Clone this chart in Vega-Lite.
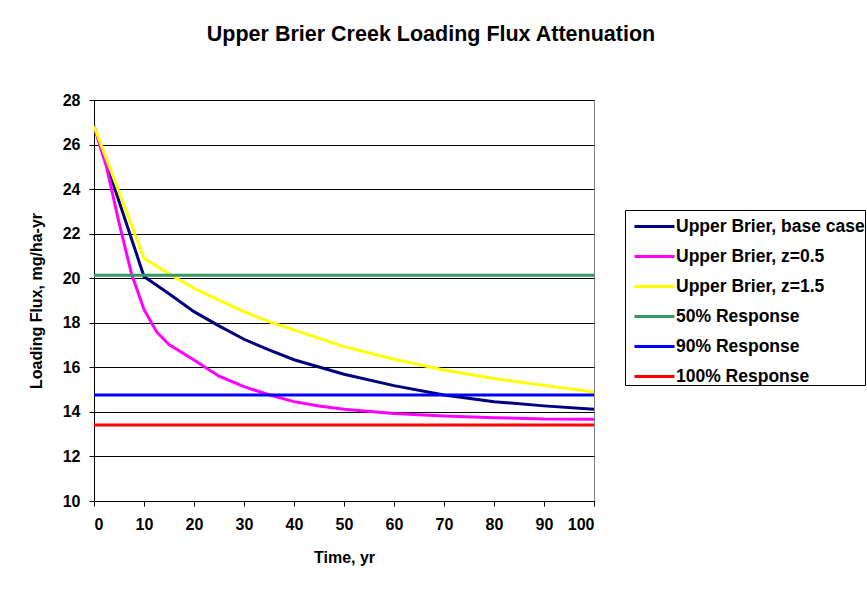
{
  "$schema": "https://vega.github.io/schema/vega-lite/v6.json",
  "width": 500,
  "height": 401,
  "autosize": {"type": "none"},
  "padding": {"left": 94, "top": 100, "right": 273, "bottom": 91},
  "background": "white",
  "title": {
    "text": "Upper Brier Creek Loading Flux Attenuation",
    "font": "Liberation Sans",
    "fontSize": 21.5,
    "fontWeight": "bold",
    "color": "black",
    "anchor": "middle",
    "frame": "group",
    "dx": 87,
    "offset": 47
  },
  "data": {
    "values": [
      {"series": "Upper Brier, base case", "t": 0, "v": 26.83},
      {"series": "Upper Brier, base case", "t": 10, "v": 20.08},
      {"series": "Upper Brier, base case", "t": 15, "v": 19.3},
      {"series": "Upper Brier, base case", "t": 20, "v": 18.5},
      {"series": "Upper Brier, base case", "t": 25, "v": 17.86},
      {"series": "Upper Brier, base case", "t": 30, "v": 17.26},
      {"series": "Upper Brier, base case", "t": 35, "v": 16.78},
      {"series": "Upper Brier, base case", "t": 40, "v": 16.34},
      {"series": "Upper Brier, base case", "t": 50, "v": 15.69},
      {"series": "Upper Brier, base case", "t": 60, "v": 15.18},
      {"series": "Upper Brier, base case", "t": 70, "v": 14.76},
      {"series": "Upper Brier, base case", "t": 80, "v": 14.46},
      {"series": "Upper Brier, base case", "t": 90, "v": 14.27},
      {"series": "Upper Brier, base case", "t": 100, "v": 14.12},
      {"series": "Upper Brier, z=0.5", "t": 0, "v": 26.83},
      {"series": "Upper Brier, z=0.5", "t": 2.5, "v": 25.0},
      {"series": "Upper Brier, z=0.5", "t": 5, "v": 22.5},
      {"series": "Upper Brier, z=0.5", "t": 7.5, "v": 20.2},
      {"series": "Upper Brier, z=0.5", "t": 10, "v": 18.6},
      {"series": "Upper Brier, z=0.5", "t": 12.5, "v": 17.6},
      {"series": "Upper Brier, z=0.5", "t": 15, "v": 17.02},
      {"series": "Upper Brier, z=0.5", "t": 20, "v": 16.33},
      {"series": "Upper Brier, z=0.5", "t": 25, "v": 15.6},
      {"series": "Upper Brier, z=0.5", "t": 30, "v": 15.13},
      {"series": "Upper Brier, z=0.5", "t": 35, "v": 14.77},
      {"series": "Upper Brier, z=0.5", "t": 40, "v": 14.46},
      {"series": "Upper Brier, z=0.5", "t": 45, "v": 14.26},
      {"series": "Upper Brier, z=0.5", "t": 50, "v": 14.12},
      {"series": "Upper Brier, z=0.5", "t": 60, "v": 13.93},
      {"series": "Upper Brier, z=0.5", "t": 70, "v": 13.82},
      {"series": "Upper Brier, z=0.5", "t": 80, "v": 13.74},
      {"series": "Upper Brier, z=0.5", "t": 90, "v": 13.68},
      {"series": "Upper Brier, z=0.5", "t": 100, "v": 13.67},
      {"series": "Upper Brier, z=1.5", "t": 0, "v": 26.83},
      {"series": "Upper Brier, z=1.5", "t": 10, "v": 20.9},
      {"series": "Upper Brier, z=1.5", "t": 15, "v": 20.2},
      {"series": "Upper Brier, z=1.5", "t": 20, "v": 19.55},
      {"series": "Upper Brier, z=1.5", "t": 25, "v": 19.02},
      {"series": "Upper Brier, z=1.5", "t": 30, "v": 18.5},
      {"series": "Upper Brier, z=1.5", "t": 35, "v": 18.05},
      {"series": "Upper Brier, z=1.5", "t": 40, "v": 17.68},
      {"series": "Upper Brier, z=1.5", "t": 50, "v": 16.93},
      {"series": "Upper Brier, z=1.5", "t": 60, "v": 16.36},
      {"series": "Upper Brier, z=1.5", "t": 70, "v": 15.88},
      {"series": "Upper Brier, z=1.5", "t": 80, "v": 15.5},
      {"series": "Upper Brier, z=1.5", "t": 90, "v": 15.19},
      {"series": "Upper Brier, z=1.5", "t": 100, "v": 14.89},
      {"series": "50% Response", "t": 0, "v": 20.13},
      {"series": "50% Response", "t": 100, "v": 20.13},
      {"series": "90% Response", "t": 0, "v": 14.76},
      {"series": "90% Response", "t": 100, "v": 14.76},
      {"series": "100% Response", "t": 0, "v": 13.41},
      {"series": "100% Response", "t": 100, "v": 13.41}
    ]
  },
  "mark": {"type": "line", "strokeWidth": 3, "clip": true},
  "encoding": {
    "x": {
      "field": "t",
      "type": "quantitative",
      "scale": {"domain": [0, 100], "nice": false},
      "axis": {
        "title": "Time, yr",
        "values": [0, 10, 20, 30, 40, 50, 60, 70, 80, 90, 100],
        "grid": false,
        "domainColor": "black",
        "tickColor": "black",
        "tickSize": 5,
        "labelPadding": 10,
        "titlePadding": 17
      }
    },
    "y": {
      "field": "v",
      "type": "quantitative",
      "scale": {"domain": [10, 28], "nice": false, "zero": false},
      "axis": {
        "title": "Loading Flux, mg/ha-yr",
        "values": [10, 12, 14, 16, 18, 20, 22, 24, 26, 28],
        "grid": true,
        "gridColor": "black",
        "gridOpacity": 1,
        "gridWidth": 1,
        "domainColor": "black",
        "tickColor": "black",
        "tickSize": 5,
        "labelPadding": 9,
        "titlePadding": 18
      }
    },
    "color": {
      "field": "series",
      "type": "nominal",
      "sort": ["Upper Brier, base case", "Upper Brier, z=0.5", "Upper Brier, z=1.5", "50% Response", "90% Response", "100% Response"],
      "scale": {
        "domain": ["Upper Brier, base case", "Upper Brier, z=0.5", "Upper Brier, z=1.5", "50% Response", "90% Response", "100% Response"],
        "range": ["#000080", "#FF00FF", "#FFFF00", "#339966", "#0000FF", "#FF0000"]
      },
      "legend": {
        "title": null,
        "orient": "none",
        "legendX": 531,
        "legendY": 110,
        "symbolType": "M-0.47,0H2.2",
        "symbolSize": 900,
        "symbolStrokeWidth": 3,
        "labelFontSize": 17.5,
        "labelFont": "Liberation Sans",
        "labelFontWeight": "bold",
        "labelColor": "black",
        "labelLimit": 0,
        "labelOffset": 18,
        "rowPadding": 5,
        "strokeColor": "black",
        "fillColor": "white",
        "padding": 0
      }
    }
  },
  "config": {
    "font": "Liberation Sans",
    "view": {"stroke": "#808080", "strokeWidth": 1},
    "axis": {
      "labelFont": "Liberation Sans",
      "labelFontSize": 16,
      "labelFontWeight": "bold",
      "labelColor": "black",
      "titleFont": "Liberation Sans",
      "titleFontSize": 16,
      "titleFontWeight": "bold",
      "titleColor": "black"
    }
  }
}
